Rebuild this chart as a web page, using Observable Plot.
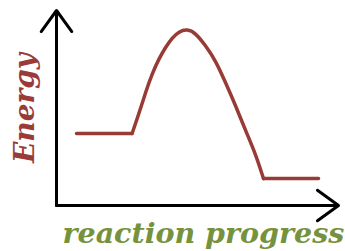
<!DOCTYPE html>
<html>
<head>
<meta charset="utf-8">
<script src="https://cdn.jsdelivr.net/npm/d3@7"></script>
<script src="https://cdn.jsdelivr.net/npm/@observablehq/plot@0.6"></script>
<style>
  html, body { margin: 0; padding: 0; background: #fff; }
</style>
</head>
<body>
<div id="chart"></div>
<script>
// Energy profile (abstract units), three pieces: reactants, hump, products
const segment  = ["reactants","reactants",
  "hump","hump","hump","hump","hump","hump","hump","hump","hump","hump","hump","hump","hump","hump","hump","hump","hump",
  "products","products"];
const progress = [0.71, 2.68,
  2.68, 2.92, 3.16, 3.39, 3.63, 3.87, 4.10, 4.34, 4.63, 4.93, 5.28, 5.64, 5.99, 6.35, 6.70, 7.06, 7.34,
  7.34, 9.29];
const energy   = [3.69, 3.69,
  3.69, 4.70, 5.81, 6.75, 7.52, 8.12, 8.60, 8.92, 9.05, 8.85, 8.21, 7.44, 6.32, 5.13, 3.85, 2.65, 1.38,
  1.38, 1.38];

const xLabel = "reaction progress";
const yLabel = "Energy";

const data = progress.map((p, i) => ({segment: segment[i], progress: p, energy: energy[i]}));

const font = "'DejaVu Serif', serif";

const chart = Plot.plot({
  width: 345,
  height: 251,
  marginLeft: 56,
  marginRight: 7,
  marginTop: 10,
  marginBottom: 46,
  x: {domain: [0, 10], axis: null},
  y: {domain: [0, 10], axis: null},
  marks: [
    Plot.arrow([{x1: 0, y1: 0, x2: 10, y2: 0}], {x1: "x1", y1: "y1", x2: "x2", y2: "y2", stroke: "black", strokeWidth: 3, headLength: 13, headAngle: 72}),
    Plot.arrow([{x1: 0, y1: 0, x2: 0, y2: 10}], {x1: "x1", y1: "y1", x2: "x2", y2: "y2", stroke: "black", strokeWidth: 3, headLength: 13, headAngle: 72}),
    Plot.line(data, {x: "progress", y: "energy", z: "segment", curve: "basis", stroke: "#983b36", strokeWidth: 3.5}),
    Plot.text([yLabel], {text: d => d, frameAnchor: "left", textAnchor: "middle", dx: -31, rotate: -90, fill: "#9b3b37", fontSize: 28, fontWeight: "bold", fontStyle: "italic", fontFamily: font}),
    Plot.text([xLabel], {text: d => d, frameAnchor: "bottom-left", textAnchor: "start", dx: 6, dy: 37, lineAnchor: "bottom", fill: "#76923c", fontSize: 28.5, fontWeight: "bold", fontStyle: "italic", fontFamily: font})
  ]
});
document.getElementById("chart").appendChild(chart);
</script>
</body>
</html>
